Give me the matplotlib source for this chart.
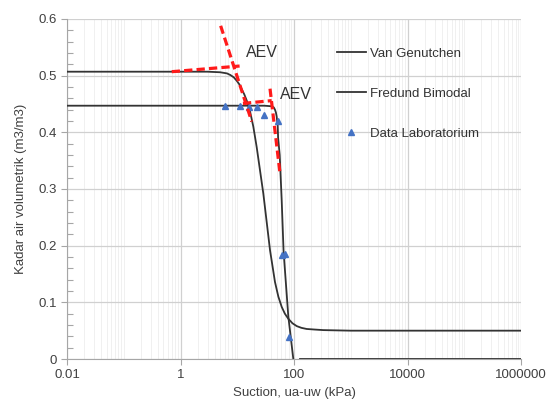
import numpy as np
import matplotlib
matplotlib.use("Agg")
import matplotlib.pyplot as plt
from matplotlib.ticker import FixedLocator, FixedFormatter, MultipleLocator, NullFormatter

plt.rcParams['font.family'] = ['Liberation Sans', 'DejaVu Sans']

# Van Genutchen curve (suction kPa, volumetric water content)
vg_suction = [0.01, 1, 3, 5.0, 6.6, 7.6, 8.7, 9.8, 11.0, 12.0, 13.3, 14.7, 16.8,
              19.2, 22.0, 28.8, 37.8, 46.2, 53.0, 60.7, 69.0, 79.4, 94.0, 112,
              135, 167, 230, 328, 1000, 1e6]
vg_theta = [0.507, 0.507, 0.507, 0.506, 0.504, 0.501, 0.497, 0.491, 0.484, 0.476,
            0.467, 0.456, 0.437, 0.410, 0.374, 0.292, 0.192, 0.136, 0.110, 0.092,
            0.080, 0.071, 0.063, 0.058, 0.055, 0.053, 0.052, 0.051, 0.050, 0.050]

# Fredlund Bimodal curve (gap where the curve leaves the plot below zero)
fb_suction = [0.01, 1, 10, 30, 40.4, 44.0, 46.2, 48.0, 49.5, 51.6, 52.5, 56.0,
              60.7, 65.5, 79.4, 97.3, np.nan, 127.6, 1e6]
fb_theta = [0.447, 0.447, 0.447, 0.447, 0.446, 0.444, 0.440, 0.435, 0.428, 0.412,
            0.39, 0.36, 0.28, 0.19, 0.075, 0.0, np.nan, 0.0, 0.0]

# Laboratory data
lab_suction = [6.1, 11.2, 15.8, 22.0, 30.2, 51.6, 62.7, 70.8, 82.6]
lab_theta = [0.446, 0.446, 0.444, 0.445, 0.430, 0.420, 0.184, 0.185, 0.038]

# AEV construction lines
aev1_plateau_x = [0.7, 11.0]
aev1_plateau_y = [0.507, 0.517]
aev1_slope_x = [5.1, 18.0]
aev1_slope_y = [0.588, 0.419]
aev2_plateau_x = [12.6, 40.4]
aev2_plateau_y = [0.451, 0.456]
aev2_slope_x = [37.8, 56.6]
aev2_slope_y = [0.477, 0.328]

x_major = [0.01, 1, 100, 10000, 1000000]
x_labels = ['0.01', '1', '100', '10000', '1000000']
y_ticks = [0, 0.1, 0.2, 0.3, 0.4, 0.5, 0.6]
y_labels = ['0', '0.1', '0.2', '0.3', '0.4', '0.5', '0.6']

fig = plt.figure(figsize=(5.54, 4.08), dpi=100)
ax = fig.add_axes([67/554, 1-359/408, (521-67)/554, 340/408])

ax.set_xscale('log')
ax.set_xlim(0.01, 1e6)
ax.set_ylim(0, 0.6)

minor = []
for d in range(-2, 6):
    for k in range(1, 10):
        v = k * 10.0**d
        if v not in x_major:
            minor.append(v)
ax.xaxis.set_major_locator(FixedLocator(x_major))
ax.xaxis.set_major_formatter(FixedFormatter(x_labels))
ax.xaxis.set_minor_locator(FixedLocator(minor))
ax.xaxis.set_minor_formatter(NullFormatter())
ax.yaxis.set_major_locator(FixedLocator(y_ticks))
ax.yaxis.set_major_formatter(FixedFormatter(y_labels))
ax.yaxis.set_minor_locator(MultipleLocator(0.02))
ax.yaxis.set_minor_formatter(NullFormatter())

ax.grid(True, which='major', axis='x', color='#d0d0d0', lw=0.9)
ax.grid(True, which='minor', axis='x', color='#f0f0f0', lw=0.7)
ax.grid(True, which='major', axis='y', color='#d0d0d0', lw=0.9)
ax.set_axisbelow(True)

for s in ['top', 'right']:
    ax.spines[s].set_visible(False)
ax.spines['left'].set_color('#a6a6a6')
ax.spines['bottom'].set_color('#a6a6a6')
ax.tick_params(axis='both', which='major', length=4, width=0.8, color='#a6a6a6',
               labelsize=9.5, labelcolor='#404040')
ax.tick_params(axis='x', which='minor', length=0)
ax.tick_params(axis='y', which='minor', direction='in', length=4, width=0.8, color='#a6a6a6')

ax.plot(vg_suction, vg_theta, color='#333333', lw=1.3, label='Van Genutchen', zorder=3)
ax.plot(fb_suction, fb_theta, color='#333333', lw=1.3, label='Fredund Bimodal', zorder=3)
ax.plot(lab_suction, lab_theta, ls='none', marker='^', ms=4, color='#4472C4',
        label='Data Laboratorium', zorder=4)

red = dict(color='#ff1a1a', lw=2.3, ls=(0, (2.6, 1.3)), zorder=5)
ax.plot(aev1_plateau_x, aev1_plateau_y, **red)
ax.plot(aev1_slope_x, aev1_slope_y, **red)
ax.plot(aev2_plateau_x, aev2_plateau_y, **red)
ax.plot(aev2_slope_x, aev2_slope_y, **red)

ax.text(14.3, 0.541, 'AEV', fontsize=11.5, color='#333333', va='center', ha='left')
ax.text(56.6, 0.467, 'AEV', fontsize=11.5, color='#333333', va='center', ha='left')

ax.set_xlabel('Suction, ua-uw (kPa)', fontsize=9.5, color='#404040', labelpad=4)
ax.set_ylabel('Kadar air volumetrik (m3/m3)', fontsize=9.5, color='#404040', labelpad=8)

leg = ax.legend(loc='upper left', bbox_to_anchor=(0.58, 0.935), frameon=False,
                fontsize=9.5, handlelength=2.2, labelspacing=2.1, handletextpad=0.3,
                borderpad=0)
for t in leg.get_texts():
    t.set_color('#333333')

fig.savefig('out.png', dpi=100)
